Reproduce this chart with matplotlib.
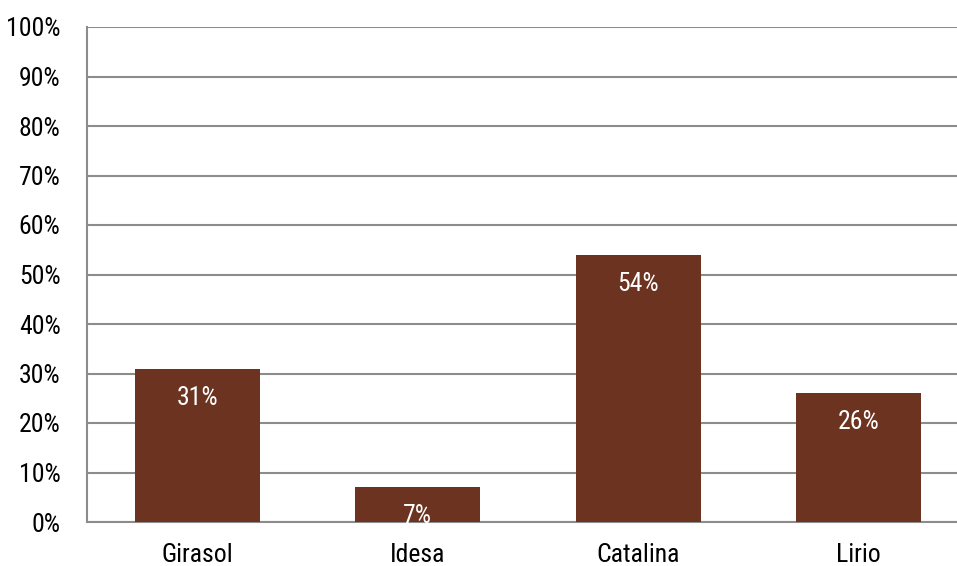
import matplotlib
matplotlib.use("Agg")
import matplotlib.pyplot as plt
from matplotlib.ticker import FuncFormatter
from matplotlib import font_manager

categories = ["Girasol", "Idesa", "Catalina", "Lirio"]
values = [31, 7, 54, 26]
yticks = [0, 10, 20, 30, 40, 50, 60, 70, 80, 90, 100]

names = {f.name for f in font_manager.fontManager.ttflist}
prefs = [('Liberation Sans Narrow', 19), ('Arial Narrow', 19), ('Roboto Condensed', 18.5),
         ('PT Sans Narrow', 19), ('Archivo Narrow', 18), ('Liberation Sans', 15)]
fam, fs = next((p for p in prefs if p[0] in names), ('DejaVu Sans', 14))
plt.rcParams['font.family'] = [fam, 'DejaVu Sans']

fig = plt.figure(figsize=(9.57, 5.66), dpi=100)
W, H = 957, 566
ax = fig.add_axes([87 / W, 1 - 522 / H, (969 - 87) / W, (522 - 27) / H])

color = "#6B3320"
x = range(len(categories))
bars = ax.bar(x, values, width=0.567, color=color, zorder=3)
for b, v in zip(bars, values):
    ax.annotate(f"{v}%", (b.get_x() + b.get_width() / 2, v), xytext=(0, -29),
                textcoords="offset pixels",
                ha="center", va="center", color="white", fontsize=fs, zorder=4)

ax.set_xlim(-0.5, len(categories) - 0.5)
ax.set_ylim(0, 100)
ax.set_yticks(yticks)
ax.yaxis.set_major_formatter(FuncFormatter(lambda v, p: f"{int(v)}%"))
ax.set_xticks(list(x))
ax.set_xticklabels(categories)
ax.grid(axis="y", color="#8c8c8c", linewidth=1.5, zorder=0)
for s in ["top", "right"]:
    ax.spines[s].set_visible(False)
for s in ["left", "bottom"]:
    ax.spines[s].set_color("#8c8c8c")
    ax.spines[s].set_linewidth(1.5)
ax.tick_params(axis="y", length=0, labelsize=fs, pad=19)
ax.tick_params(axis="x", length=0, labelsize=fs, pad=15)

fig.savefig("out.png", dpi=100)
